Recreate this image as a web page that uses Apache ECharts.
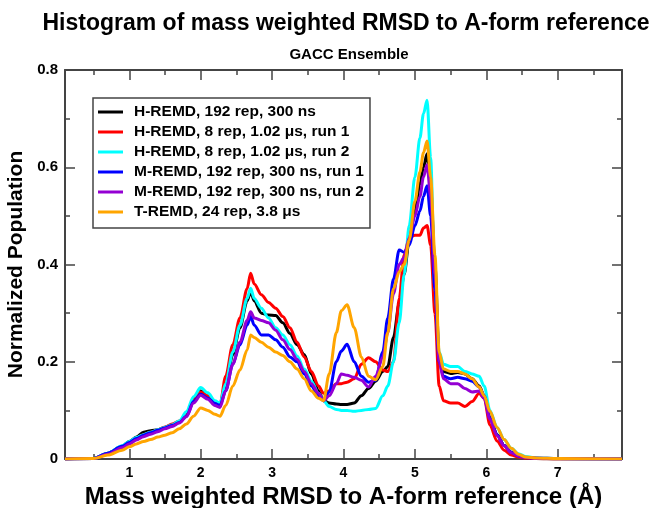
<!DOCTYPE html>
<html>
<head>
<meta charset="utf-8">
<script src="https://cdn.jsdelivr.net/npm/echarts@6/dist/echarts.min.js"></script>
<style>
  html, body { margin: 0; padding: 0; background: #fff; }
  #chart { width: 654px; height: 508px; }
</style>
</head>
<body>
<div id="chart"></div>
<script>
// RMSD grid (Å) shared by every series
const xs = [0.1, 0.5, 0.7, 0.9, 1.0, 1.1, 1.2, 1.3, 1.4, 1.5, 1.6, 1.7, 1.8, 1.9, 2.0, 2.1, 2.2,
  2.27, 2.35, 2.45, 2.55, 2.65, 2.7, 2.75,
  2.85, 2.95, 3.05, 3.15, 3.25, 3.35, 3.45, 3.55, 3.65, 3.72, 3.8, 3.9, 3.97,
  4.05, 4.15, 4.25, 4.35, 4.45, 4.55, 4.62, 4.7, 4.78, 4.85, 4.92,
  5.0, 5.07, 5.12, 5.17, 5.22, 5.28, 5.34, 5.4,
  5.5, 5.6, 5.7, 5.8, 5.9, 5.97,
  6.05, 6.15, 6.25, 6.35, 6.45, 6.55, 6.7, 7.0, 7.9]

const hremd192 = [0, 0.001, 0.012, 0.026, 0.036, 0.045, 0.055, 0.058, 0.06, 0.065, 0.07, 0.076, 0.09, 0.122, 0.14, 0.128, 0.115,
  0.11, 0.15, 0.215, 0.27, 0.325, 0.344, 0.325,
  0.3, 0.296, 0.295, 0.28, 0.258, 0.235, 0.215, 0.175, 0.14, 0.12, 0.115, 0.113, 0.112,
  0.112, 0.115, 0.13, 0.145, 0.16, 0.18, 0.19, 0.25, 0.32, 0.38, 0.45,
  0.51, 0.565, 0.6, 0.628, 0.56, 0.4, 0.21, 0.18,
  0.176, 0.178, 0.175, 0.165, 0.15, 0.13,
  0.085, 0.05, 0.028, 0.014, 0.006, 0.003, 0.001, 0, 0]

const hremd8run1 = [0, 0.001, 0.011, 0.025, 0.034, 0.043, 0.05, 0.055, 0.06, 0.066, 0.072, 0.078, 0.09, 0.12, 0.138, 0.13, 0.116,
  0.112, 0.17, 0.235, 0.29, 0.35, 0.382, 0.36,
  0.338, 0.322, 0.31, 0.293, 0.27, 0.24, 0.21, 0.18, 0.15, 0.135, 0.14, 0.155, 0.155,
  0.158, 0.165, 0.195, 0.208, 0.2, 0.183, 0.18, 0.2, 0.33, 0.42, 0.455,
  0.46, 0.46, 0.475, 0.48, 0.44, 0.3, 0.15, 0.12,
  0.115, 0.115, 0.108, 0.118, 0.135, 0.125,
  0.07, 0.037, 0.018, 0.008, 0.004, 0.002, 0.001, 0, 0]

const hremd8run2 = [0, 0.001, 0.012, 0.027, 0.036, 0.044, 0.05, 0.055, 0.06, 0.065, 0.07, 0.078, 0.097, 0.128, 0.147, 0.136, 0.12,
  0.115, 0.155, 0.22, 0.275, 0.33, 0.351, 0.33,
  0.31, 0.29, 0.27, 0.255, 0.235, 0.212, 0.185, 0.16, 0.135, 0.12, 0.108, 0.102, 0.1,
  0.1, 0.098, 0.1, 0.102, 0.104, 0.13, 0.15, 0.2, 0.28, 0.38, 0.48,
  0.58, 0.66, 0.71, 0.738, 0.62, 0.35, 0.22, 0.195,
  0.19, 0.19, 0.18, 0.175, 0.17, 0.15,
  0.1, 0.065, 0.04, 0.022, 0.011, 0.005, 0.002, 0.001, 0]

const mremdRun1 = [0, 0.001, 0.012, 0.026, 0.034, 0.042, 0.049, 0.054, 0.059, 0.064, 0.069, 0.075, 0.088, 0.118, 0.133, 0.125, 0.114,
  0.11, 0.14, 0.195, 0.235, 0.275, 0.293, 0.275,
  0.255, 0.255, 0.245, 0.23, 0.21, 0.2, 0.175, 0.15, 0.13, 0.12, 0.138, 0.2, 0.222,
  0.236, 0.2, 0.17, 0.158, 0.162, 0.22, 0.29, 0.37, 0.43, 0.425, 0.44,
  0.48, 0.51, 0.54, 0.562, 0.5, 0.35, 0.2, 0.17,
  0.165, 0.168, 0.165, 0.16, 0.148, 0.13,
  0.085, 0.05, 0.028, 0.014, 0.006, 0.003, 0.002, 0.001, 0]

const mremdRun2 = [0, 0.001, 0.01, 0.023, 0.031, 0.039, 0.046, 0.051, 0.056, 0.062, 0.067, 0.074, 0.087, 0.115, 0.131, 0.123, 0.11,
  0.106, 0.14, 0.195, 0.24, 0.285, 0.303, 0.29,
  0.285, 0.28, 0.265, 0.245, 0.225, 0.205, 0.18, 0.155, 0.135, 0.12, 0.13, 0.155, 0.175,
  0.172, 0.168, 0.162, 0.148, 0.17, 0.21, 0.26, 0.34, 0.4, 0.415, 0.455,
  0.5, 0.54, 0.58, 0.605, 0.54, 0.38, 0.2, 0.165,
  0.155, 0.155, 0.145, 0.138, 0.14, 0.125,
  0.082, 0.048, 0.027, 0.013, 0.006, 0.003, 0.001, 0.001, 0]

const tremd = [0, 0.001, 0.008, 0.018, 0.025, 0.031, 0.036, 0.04, 0.045, 0.049, 0.054, 0.062, 0.072, 0.088, 0.105, 0.1, 0.092,
  0.088, 0.11, 0.15, 0.183, 0.224, 0.255, 0.25,
  0.24, 0.23, 0.22, 0.213, 0.2, 0.185, 0.165, 0.14, 0.125, 0.12, 0.175, 0.26, 0.305,
  0.317, 0.27, 0.21, 0.17, 0.163, 0.19, 0.26, 0.35, 0.385, 0.4, 0.45,
  0.53, 0.59, 0.63, 0.654, 0.58, 0.42, 0.22, 0.185,
  0.18, 0.18, 0.175, 0.165, 0.148, 0.13,
  0.098, 0.065, 0.04, 0.022, 0.01, 0.004, 0.002, 0.001, 0]

const seriesNames = [
  'H-REMD, 192 rep, 300 ns',
  'H-REMD, 8 rep, 1.02 \u03bcs, run 1',
  'H-REMD, 8 rep, 1.02 \u03bcs, run 2',
  'M-REMD, 192 rep, 300 ns, run 1',
  'M-REMD, 192 rep, 300 ns, run 2',
  'T-REMD, 24 rep, 3.8 \u03bcs'
]
const seriesValues = [hremd192, hremd8run1, hremd8run2, mremdRun1, mremdRun2, tremd]
const seriesColors = ['#000000', '#ff0000', '#00ffff', '#0000ff', '#9400d3', '#ffa500']

const xMajorTicks = [1, 2, 3, 4, 5, 6, 7]
const xMinorTicks = [0.5, 1.5, 2.5, 3.5, 4.5, 5.5, 6.5, 7.5]

const FONT = 'Liberation Sans, Arial, sans-serif'
const AXIS_COLOR = '#444'

const chart = echarts.init(document.getElementById('chart'))

// fixed plot box, no auto-shrinking for labels
const gridBox = { left: 65, right: 32, top: 70, bottom: 49, containLabel: false, outerBoundsMode: 'none' }

const frameX = (gridIndex, position, ticks, len, showLine) => ({
  gridIndex,
  type: 'value',
  position,
  min: 0.1,
  max: 7.9,
  axisLine: { show: showLine, onZero: false, lineStyle: { color: AXIS_COLOR, width: 2 } },
  axisTick: { inside: true, length: len, customValues: ticks, lineStyle: { color: AXIS_COLOR, width: 1.5 } },
  axisLabel: { show: false },
  splitLine: { show: false }
})

const bottomX = frameX(0, 'bottom', xMajorTicks, 10, true)
bottomX.axisLabel = {
  show: true,
  customValues: xMajorTicks,
  color: '#000',
  fontWeight: 'bold',
  fontSize: 14,
  fontFamily: FONT,
  margin: 7
}
bottomX.name = 'Mass weighted RMSD to A-form reference (\u00c5)'
bottomX.nameLocation = 'middle'
bottomX.nameGap = 25
bottomX.nameTextStyle = { color: '#000', fontWeight: 'bold', fontSize: 24, fontFamily: FONT }

const frameY = (gridIndex, position, showLabel) => ({
  gridIndex,
  type: 'value',
  position,
  min: 0,
  max: 0.8,
  interval: 0.2,
  axisLine: { show: true, onZero: false, lineStyle: { color: AXIS_COLOR, width: 2 } },
  axisTick: { inside: true, length: 10, lineStyle: { color: AXIS_COLOR, width: 1.5 } },
  minorTick: { show: true, splitNumber: 2, length: 5, lineStyle: { color: AXIS_COLOR, width: 1.5 } },
  axisLabel: {
    show: showLabel,
    color: '#000',
    fontWeight: 'bold',
    fontSize: 15,
    fontFamily: FONT,
    margin: 7,
    formatter: (v) => (v === 0 ? '0' : v.toFixed(1))
  },
  splitLine: { show: false }
})

const leftY = frameY(0, 'left', true)
leftY.name = 'Normalized Population'
leftY.nameLocation = 'middle'
leftY.nameGap = 33
leftY.nameRotate = 90
leftY.nameTextStyle = { color: '#000', fontWeight: 'bold', fontSize: 21, fontFamily: FONT }

const option = {
  backgroundColor: '#fff',
  animation: false,
  title: [
    {
      text: 'Histogram of mass weighted RMSD to A-form reference',
      left: 341,
      textAlign: 'center',
      top: 7,
      textStyle: { color: '#000', fontWeight: 'bold', fontSize: 23, fontFamily: FONT }
    },
    {
      text: 'GACC Ensemble',
      left: 344,
      textAlign: 'center',
      top: 42,
      textStyle: { color: '#000', fontWeight: 'bold', fontSize: 15, fontFamily: FONT }
    }
  ],
  legend: {
    orient: 'vertical',
    left: 93,
    top: 98,
    padding: [6, 6, 8, 5],
    itemGap: 4,
    itemWidth: 25,
    itemHeight: 3,
    icon: 'rect',
    borderColor: AXIS_COLOR,
    borderWidth: 1.5,
    data: seriesNames,
    textStyle: { color: '#000', fontWeight: 'bold', fontSize: 15.5, lineHeight: 16, fontFamily: FONT, padding: [0, 0, 0, 6] }
  },
  grid: [
    Object.assign({}, gridBox),
    Object.assign({}, gridBox)
  ],
  xAxis: [
    bottomX,
    frameX(0, 'top', xMajorTicks, 10, true),
    frameX(1, 'bottom', xMinorTicks, 5, false),
    frameX(1, 'top', xMinorTicks, 5, false)
  ],
  yAxis: [
    leftY,
    frameY(0, 'right', false),
    { gridIndex: 1, type: 'value', min: 0, max: 0.8, show: false }
  ],
  series: seriesNames.map((name, i) => ({
    name,
    type: 'line',
    xAxisIndex: 0,
    yAxisIndex: 0,
    data: xs.map((x, j) => [x, seriesValues[i][j]]),
    symbol: 'none',
    smooth: 0.3,
    smoothMonotone: 'x',
    color: seriesColors[i],
    lineStyle: { width: 3, color: seriesColors[i] }
  }))
}

chart.setOption(option)
</script>
</body>
</html>
